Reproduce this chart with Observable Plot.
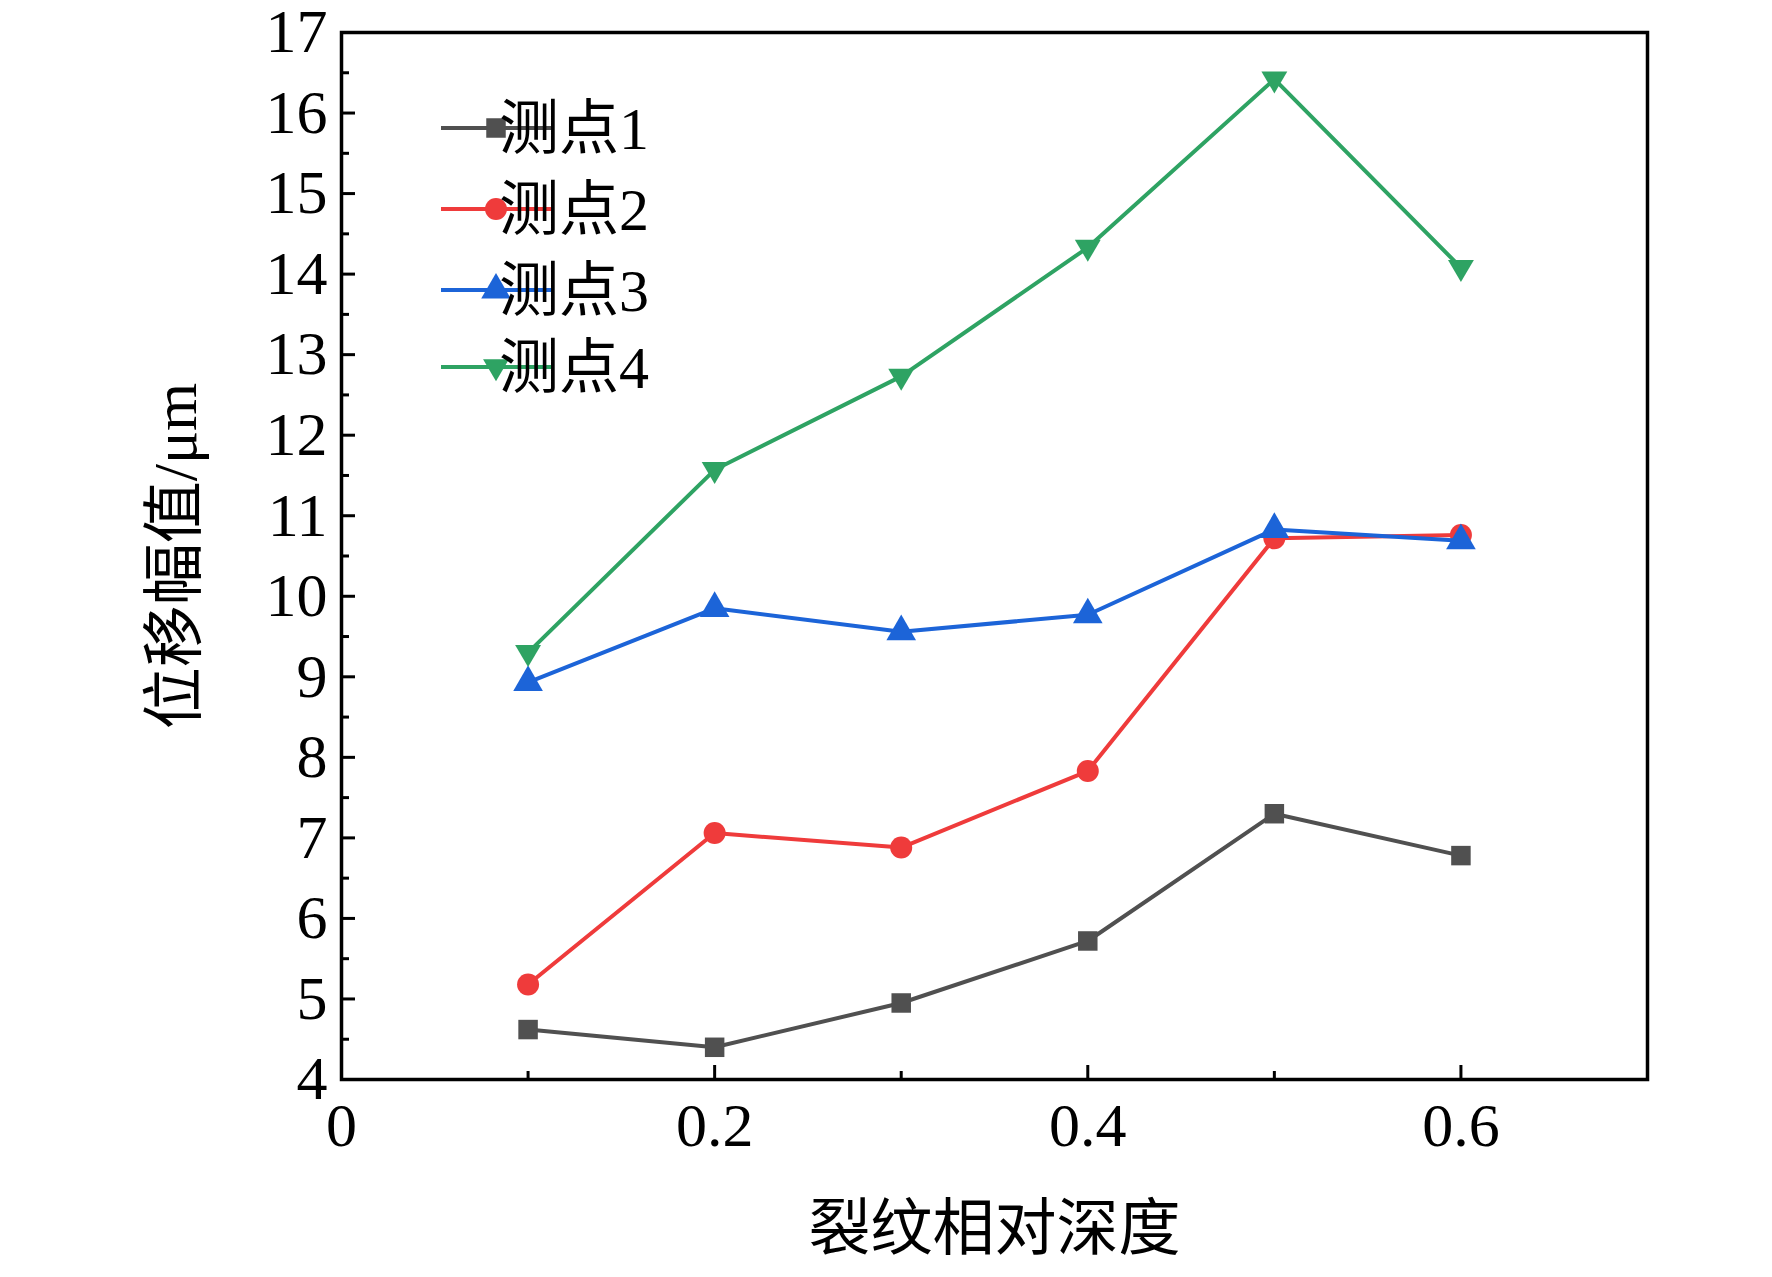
<!DOCTYPE html>
<html><head><meta charset="utf-8">
<script src="https://cdn.jsdelivr.net/npm/d3@7"></script>
<script src="https://cdn.jsdelivr.net/npm/@observablehq/plot@0.6"></script>
<style>body{margin:0;background:#fff}#c{position:relative;width:1772px;height:1277px}
svg{font-family:"Liberation Serif","Noto Sans CJK SC",serif}</style>
</head><body><div id="c"></div>
<script>
const depth=[0.1,0.2,0.3,0.4,0.5,0.6];
const p1=[4.62,4.40,4.95,5.72,7.30,6.78];
const p2=[5.18,7.06,6.88,7.83,10.72,10.76];
const p3=[8.93,9.85,9.56,9.77,10.83,10.69];
const p4=[9.30,11.57,12.73,14.33,16.42,14.08];
const names=["测点1","测点2","测点3","测点4"];
const colors=["#505050","#ef3b3b","#1c64d8","#2ea363"];
const triDown={draw(ctx,size){const r=Math.sqrt(size/3)*1.15;ctx.moveTo(-r,-r*0.6);ctx.lineTo(r,-r*0.6);ctx.lineTo(0,r*1.1);ctx.closePath();}};
const symbols=[d3.symbolSquare,d3.symbolCircle,d3.symbolTriangle,triDown];
const series=[p1,p2,p3,p4];
const data=series.flatMap((s,i)=>s.map((v,j)=>({x:depth[j],y:v,k:names[i]})));
const marks=[];
series.forEach((s,i)=>{
  const d=data.filter(r=>r.k===names[i]);
  marks.push(Plot.line(d,{x:"x",y:"y",stroke:colors[i],strokeWidth:4}));
  marks.push(Plot.dot(d,{x:"x",y:"y",fill:colors[i],symbol:()=>symbols[i],r:11}));
});
const plot=Plot.plot({width:1772,height:1277,marginLeft:341,marginRight:125,marginTop:32,marginBottom:198,
  x:{domain:[0,0.7]},y:{domain:[4,17]},
  style:{fontSize:"60px",fontFamily:"Liberation Serif, Noto Sans CJK SC, serif",color:"#000"},
  marks:[
    Plot.axisX({ticks:[0,0.2,0.4,0.6],tickSize:-14,text:null,strokeWidth:3,label:null}),
    Plot.axisX({ticks:[0.1,0.3,0.5],tickSize:-8,text:null,strokeWidth:3,label:null}),
    Plot.axisX({ticks:[0,0.2,0.4,0.6],tickSize:0,tickPadding:22,tickFormat:d=>String(d),fontSize:62,label:"裂纹相对深度",labelAnchor:"center",labelArrow:"none",labelOffset:170}),
    Plot.axisY({ticks:d3.range(4,18),tickSize:-14,text:null,strokeWidth:3,label:null}),
    Plot.axisY({ticks:d3.range(4.5,17,1),tickSize:-8,text:null,strokeWidth:3,label:null}),
    Plot.axisY({ticks:d3.range(4,18),tickSize:0,tickPadding:14,fontSize:62,label:"位移幅值/μm",labelAnchor:"center",labelArrow:"none",labelOffset:190}),
    Plot.frame({stroke:"#000",strokeWidth:3.5}),
    ...marks
  ]});
document.getElementById("c").appendChild(plot);
const svg=d3.select(plot);
const g=svg.append("g");
const rows=[128,209,290,367];
names.forEach((n,i)=>{
  g.append("line").attr("x1",441).attr("x2",552).attr("y1",rows[i]).attr("y2",rows[i]).attr("stroke",colors[i]).attr("stroke-width",4);
  g.append("path").attr("transform",`translate(496,${rows[i]})`).attr("d",d3.symbol(symbols[i],380)()).attr("fill",colors[i]);
  g.append("text").attr("x",574).attr("y",rows[i]).attr("dy","0.35em").attr("font-size",60).text(n);
});
</script></body></html>
